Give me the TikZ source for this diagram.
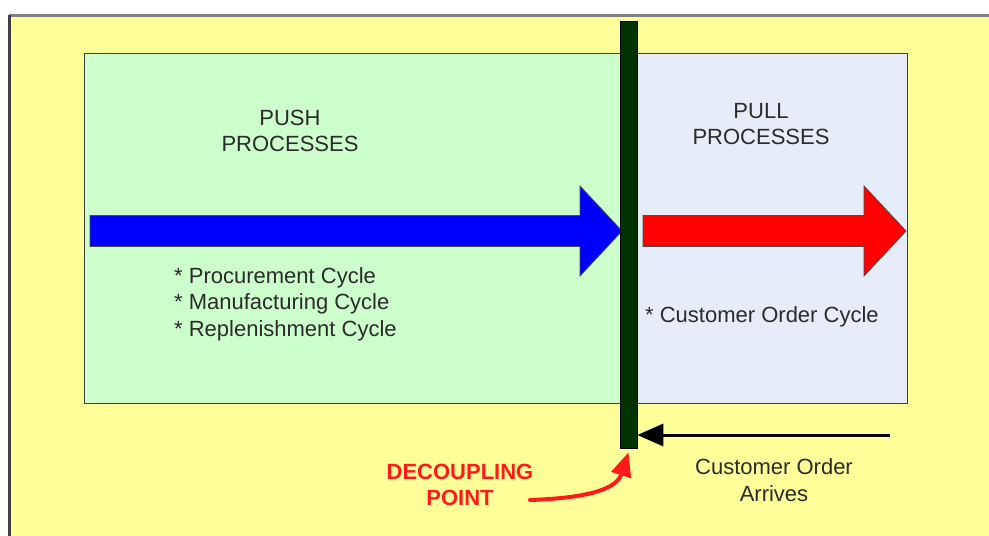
\documentclass[tikz,border=0pt]{standalone}
\usepackage{fontspec}
\setmainfont{Liberation Sans}
\usetikzlibrary{arrows.meta}
\definecolor{bgyellow}{HTML}{FFFF99}
\definecolor{pushgreen}{HTML}{CCFFCC}
\definecolor{pullblue}{HTML}{E6ECF8}
\definecolor{bargreen}{HTML}{003300}
\definecolor{textgray}{HTML}{2B2B2B}
\definecolor{dpred}{HTML}{FF1A1A}
\def\fatarrow[#1](#2,#3)(#4){\draw[#1] (#2,#3-15.5) -- (#4-42,#3-15.5) -- (#4-42,#3-45) -- (#4,#3) -- (#4-42,#3+45) -- (#4-42,#3+15.5) -- (#2,#3+15.5) -- cycle;}
\tikzset{
  procbox/.style={draw=black!75, line width=1pt, inner sep=0pt},
  label text/.style={font=\fontsize{22}{26.5}\selectfont, text=textgray, align=center, inner sep=0pt},
}

\begin{document}
\begin{tikzpicture}[x=1pt, y=-1pt]
		%%%%% START %%%%%
		\useasboundingbox (0,0) rectangle (989,536);
		
		\fill[bgyellow] (9,15) rectangle (989,536);
		\draw[black!50, line width=3pt] (9,15.5) -- (989,15.5);
		\draw[black!75, line width=2.5pt] (9.5,15) -- (9.5,536);
		
		\node[procbox, fill=pushgreen, minimum width=544pt, minimum height=350pt] (pushbox) at (356,228) {};
		\node[procbox, fill=pullblue, minimum width=279pt, minimum height=350pt] (pullbox) at (767.5,228) {};
		
		\fatarrow[fill=blue, draw=black!70, line width=0.8pt](90,231)(622);
		\fatarrow[fill=red, draw=black!70, line width=0.8pt](643,231)(906);
		
		\node[draw=black, fill=bargreen, line width=0.6pt, minimum width=17pt, minimum height=427pt, inner sep=0pt] (bar) at (628.5,234.5) {};
		
		\node[label text] (pushtext) at (290,131) {PUSH\\PROCESSES};
		\node[label text] (pulltext) at (761,124) {PULL\\PROCESSES};
		\node[label text, align=left, anchor=west] (pushcycles) at (174,304) {* Procurement Cycle\\* Manufacturing Cycle\\* Replenishment Cycle};
		\node[label text, anchor=west] (pullcycles) at (645,317) {* Customer Order Cycle};
		
		\node[label text, text=dpred, font=\fontsize{22}{26.5}\selectfont\bfseries] (dptext) at (460,485) {DECOUPLING\\POINT};
		\node[label text] (ordertext) at (774,480) {Customer Order\\Arrives};
		
		\coordinate (orderstart) at (890,435);
		\draw[line width=3pt, -{Triangle[length=26pt, width=22pt]}] (orderstart) -- (bar.east |- orderstart);
		
		\coordinate (dpstart) at (530,500);
		\draw[dpred, line width=4pt, line cap=round, -{Triangle[length=24pt, width=20pt]}] (dpstart) to[out=2, in=-108] ([yshift=-4pt]bar.south);
		
		%%%%% END %%%%%
	\end{tikzpicture}
\end{document}
